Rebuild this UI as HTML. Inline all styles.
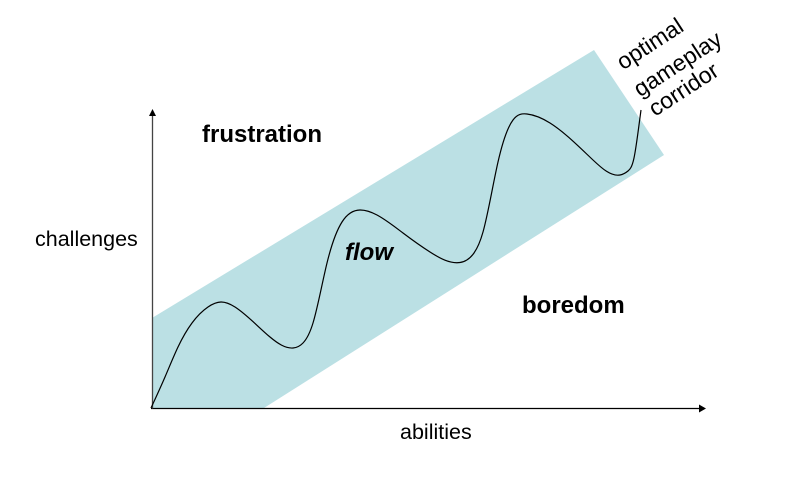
<!DOCTYPE html>
<html>
<head>
<meta charset="utf-8">
<title>Flow corridor chart</title>
<style>
html,body{margin:0;padding:0;background:#fff;}
svg{display:block;font-family:"Liberation Sans",Arial,sans-serif;}
</style>
</head>
<body>
<svg id="chart" width="788" height="489" viewBox="0 0 788 489" xmlns="http://www.w3.org/2000/svg">
  <rect x="0" y="0" width="788" height="489" fill="#ffffff"/>
  <polygon id="band" fill="#bbe0e4"/>
  <line x1="151" y1="408.5" x2="700" y2="408.5" stroke="#000" stroke-width="1.3"/>
  <polygon points="699,404.5 706,408.5 699,412.5" fill="#000"/>
  <line x1="152.5" y1="408.5" x2="152.5" y2="114" stroke="#444" stroke-width="1.3"/>
  <polygon points="149,116 152.5,109 156,116" fill="#000"/>
  <path id="curve" fill="none" stroke="#000" stroke-width="1.2" stroke-linejoin="round"/>
  <text x="35" y="246" font-size="21.5" fill="#000">challenges</text>
  <text x="400" y="439" font-size="21.5" fill="#000">abilities</text>
  <text x="202" y="142" font-size="24" font-weight="bold" fill="#000">frustration</text>
  <text x="522" y="313" font-size="24" font-weight="bold" fill="#000">boredom</text>
  <text x="345" y="260" font-size="24" font-weight="bold" font-style="italic" fill="#000">flow</text>
  <text transform="translate(623,70.5) rotate(-33)" font-size="23" fill="#000">optimal</text>
  <text transform="translate(640,97.5) rotate(-33)" font-size="23" fill="#000">gameplay</text>
  <text transform="translate(655,117) rotate(-33)" font-size="23" fill="#000">corridor</text>
</svg>
<script>
// Values; units are pixels from the chart origin.
var abilities = [0, 14, 27, 41, 57, 70, 84, 119, 142, 152, 162, 176, 191, 209, 226, 252, 279, 309, 323, 332, 347, 362, 376, 399, 442, 469, 477, 483, 488, 490];
var challenges = [0, 31, 61, 85, 101, 106, 101, 71, 60, 65, 85, 145, 186, 198, 193, 175, 156, 145.5, 155, 176, 246, 288, 294, 285, 248, 233, 237, 250, 283, 298];
var bandAbilities = [1, 443, 513, 113, 1];
var bandChallenges = [90, 358, 253, 0, 0];

function xAxis(v) { return 151 + v; }
function yAxis(v) { return 408 - v; }

var band = document.getElementById('band');
band.setAttribute('points', bandAbilities.map(function (a, i) {
  return xAxis(a) + ',' + yAxis(bandChallenges[i]);
}).join(' '));

// Natural cubic spline through the read points.
var px = abilities.map(xAxis);
var py = challenges.map(yAxis);
var n = px.length;
var h = [];
for (var i = 0; i < n - 1; i++) { h[i] = px[i + 1] - px[i]; }
var c = [], e = [];
c[0] = 0;
e[0] = 0;
for (var a = 1; a < n - 1; a++) {
  var rhs = 6 * ((py[a + 1] - py[a]) / h[a] - (py[a] - py[a - 1]) / h[a - 1]);
  var piv = 2 * (h[a - 1] + h[a]) - h[a - 1] * c[a - 1];
  c[a] = h[a] / piv;
  e[a] = (rhs - h[a - 1] * e[a - 1]) / piv;
}
var curv = [];
curv[n - 1] = 0;
for (var b = n - 2; b >= 0; b--) {
  curv[b] = b === 0 ? 0 : e[b] - c[b] * curv[b + 1];
}
var d = 'M' + px[0] + ' ' + py[0];
for (var k = 0; k < n - 1; k++) {
  var base = (py[k + 1] - py[k]) / h[k];
  var m0 = base - h[k] * (2 * curv[k] + curv[k + 1]) / 6;
  var m1 = base + h[k] * (curv[k] + 2 * curv[k + 1]) / 6;
  d += ' C' + (px[k] + h[k] / 3).toFixed(2) + ' ' + (py[k] + m0 * h[k] / 3).toFixed(2) +
       ' ' + (px[k + 1] - h[k] / 3).toFixed(2) + ' ' + (py[k + 1] - m1 * h[k] / 3).toFixed(2) +
       ' ' + px[k + 1] + ' ' + py[k + 1];
}
document.getElementById('curve').setAttribute('d', d);
</script>
</body>
</html>
